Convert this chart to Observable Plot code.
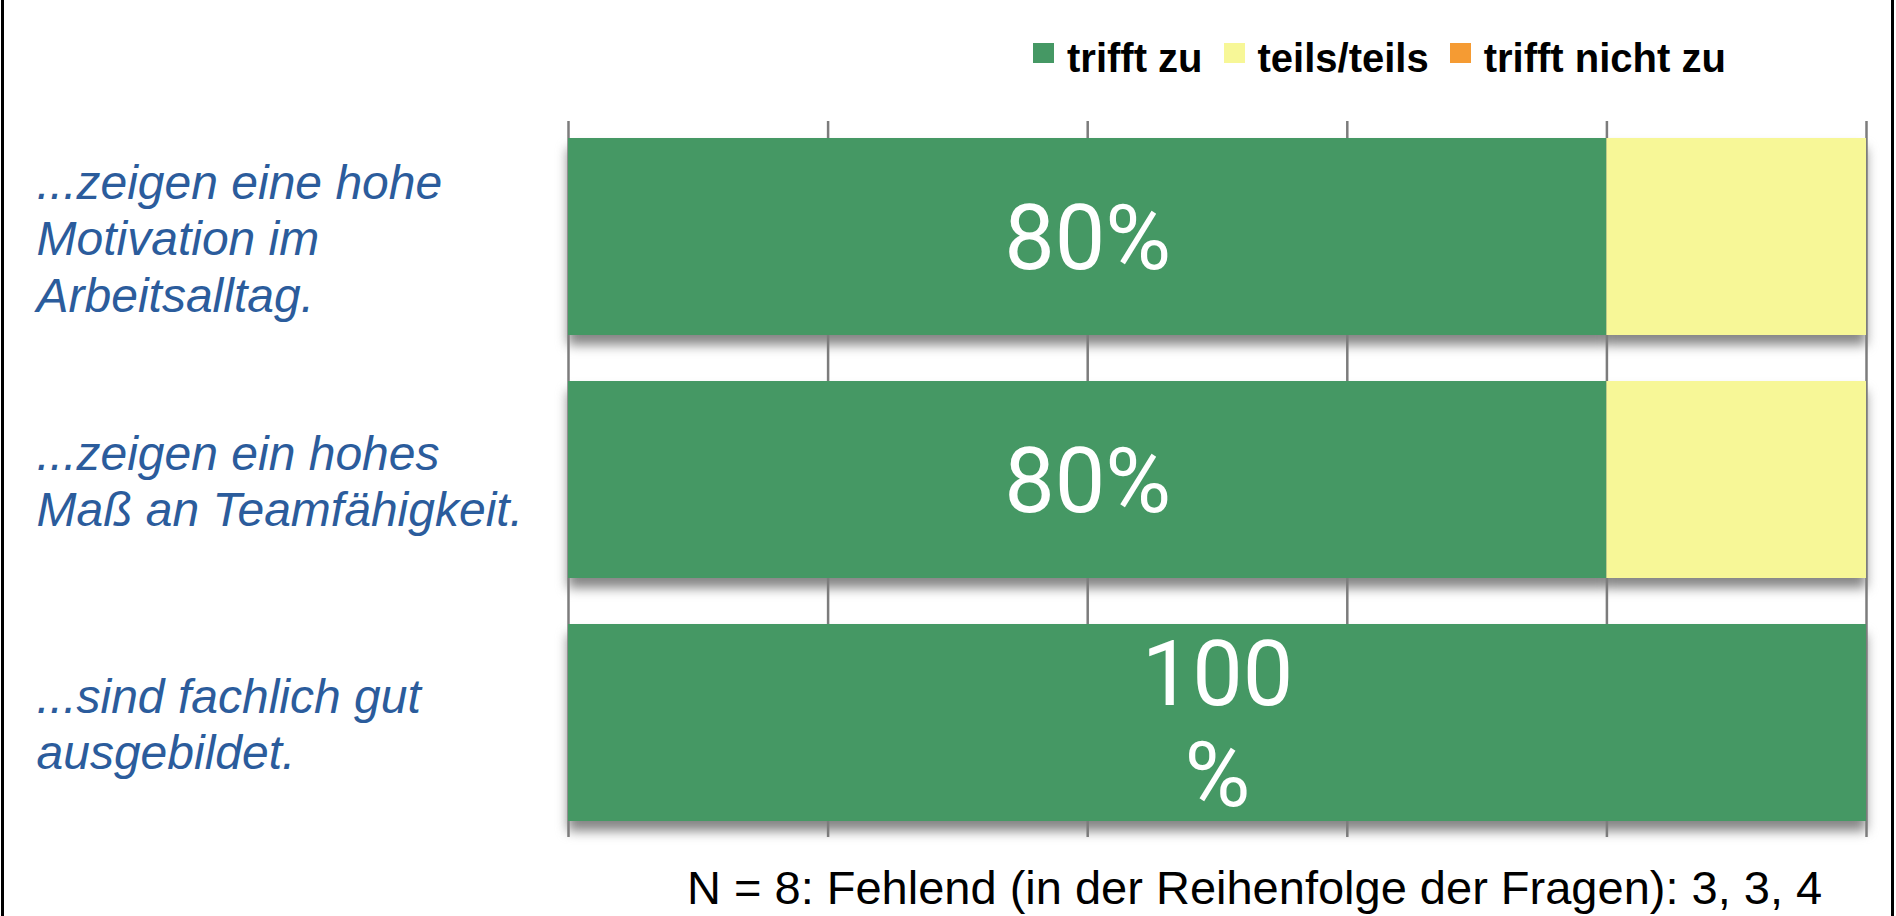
<!DOCTYPE html>
<html>
<head>
<meta charset="utf-8">
<script src="https://cdn.jsdelivr.net/npm/d3@7"></script>
<script src="https://cdn.jsdelivr.net/npm/@observablehq/plot@0.6"></script>
<style>
  html, body { margin: 0; padding: 0; width: 1896px; height: 916px; overflow: hidden; background: #fff; }
  #page { position: relative; width: 1896px; height: 916px; }
  #frame { position: absolute; left: 1px; top: 0; width: 1887px; height: 916px;
           border-left: 3px solid #000; border-right: 3px solid #000; pointer-events: none; z-index: 5; }
  #legend { position: absolute; left: 1033px; top: 38px; display: flex; align-items: flex-start;
            font-family: "Liberation Sans", Arial, sans-serif; font-weight: bold; font-size: 40px;
            line-height: 40px; color: #000; white-space: nowrap; }
  #legend .item { display: flex; align-items: flex-start; margin-right: 21px; }
  #legend .sw { width: 21px; height: 20px; margin-top: 5px; margin-right: 13px; }
  #chart { position: absolute; left: 0; top: 100px; }
  #caption { position: absolute; left: 687px; top: 864px; font-family: "Liberation Sans", Arial, sans-serif;
             font-size: 47px; line-height: 48px; color: #000; white-space: nowrap; }
</style>
</head>
<body>
<div id="page">
  <div id="legend"></div>
  <div id="chart"></div>
  <div id="caption"></div>
  <div id="frame"></div>
</div>
<script>
// ---- data ----
const categories = [
  "...zeigen eine hohe\nMotivation im\nArbeitsalltag.",
  "...zeigen ein hohes\nMaß an Teamfähigkeit.",
  "...sind fachlich gut\nausgebildet."
];
const series = ["trifft zu", "teils/teils", "trifft nicht zu"];
const seriesColors = ["#459864", "#f7f797", "#f59b33"];
const trifftZu = [80, 80, 100];
const teilsTeils = [20, 20, 0];
const trifftNichtZu = [0, 0, 0];
const valueLabels = ["80%", "80%", "100\n%"];
const gridTicks = [0, 20, 40, 60, 80, 100];
const captionText = "N = 8: Fehlend (in der Reihenfolge der Fragen): 3, 3, 4";

// ---- table ----
const seriesValues = [trifftZu, teilsTeils, trifftNichtZu];
const rows = [];
categories.forEach((c, i) => {
  series.forEach((s, j) => rows.push({category: c, series: s, value: seriesValues[j][i], label: j === 0 ? valueLabels[i] : ""}));
});
const visibleRows = rows.filter(d => d.value > 0);

// ---- legend ----
const legend = document.getElementById("legend");
series.forEach((s, j) => {
  const item = document.createElement("div");
  item.className = "item";
  const sw = document.createElement("div");
  sw.className = "sw";
  sw.style.background = seriesColors[j];
  const t = document.createElement("span");
  t.textContent = s;
  item.appendChild(sw);
  item.appendChild(t);
  legend.appendChild(item);
});

// ---- chart ----
const chart = Plot.plot({
  width: 1896,
  height: 760,
  marginTop: 21,
  marginBottom: 23,
  marginLeft: 568,
  marginRight: 30,
  style: {background: "transparent", overflow: "visible"},
  x: {domain: [0, 100], axis: null},
  y: {domain: categories, paddingInner: 0.19, paddingOuter: 0.066, axis: null},
  color: {domain: series, range: seriesColors},
  marks: [
    // soft shadow under the bars
    Plot.barX(visibleRows, Plot.stackX({x: "value", y: "category", fill: "#858585", dy: 10, order: series, z: "series"})),
    Plot.ruleX(gridTicks, {stroke: "#7c7c7c", strokeWidth: 2.5}),
    Plot.barX(visibleRows, Plot.stackX({x: "value", y: "category", fill: "series", order: series, z: "series"})),
    Plot.text(visibleRows.filter(d => d.series === series[0]), Plot.stackX({
      x: "value", y: "category", text: "label", fill: "white",
      fontSize: 90, fontFamily: "Roboto, 'Liberation Sans', sans-serif", lineHeight: 1.12
    })),
    Plot.text(categories, {
      y: d => d, text: d => d, frameAnchor: "left", textAnchor: "start", dx: -532,
      fontSize: 48, fontStyle: "italic", fill: "#2b5c9c",
      fontFamily: "'Liberation Sans', Arial, sans-serif", lineHeight: 1.18
    })
  ]
});
const shadow = chart.querySelector('g[aria-label="bar"]');
if (shadow) shadow.style.filter = "blur(6px)";
document.getElementById("chart").appendChild(chart);

document.getElementById("caption").textContent = captionText;
</script>
</body>
</html>
